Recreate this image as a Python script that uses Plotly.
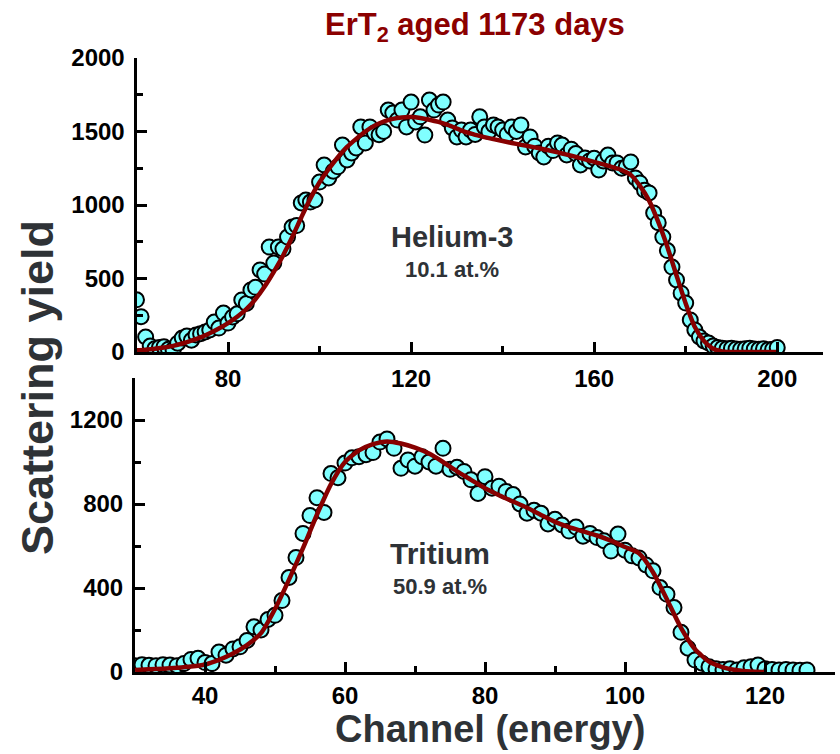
import plotly.graph_objects as go

# ---------------- data ----------------
he_channel = list(range(60, 201))
he_yield = [355, 240, 102, 40, 22, 30, 35, 18, 15, 60,
            95, 108, 80, 116, 125, 136, 150, 204, 163, 265,
            197, 238, 260, 354, 330, 422, 440, 558, 530, 714,
            605, 714, 700, 782, 850, 860, 1014, 1034, 1020, 1034,
            1156, 1272, 1184, 1230, 1260, 1408, 1306, 1354, 1388, 1531,
            1422, 1531, 1490, 1478, 1500, 1646, 1626, 1578, 1646, 1531,
            1700, 1565, 1600, 1476, 1714, 1646, 1680, 1700, 1578, 1524,
            1463, 1510, 1463, 1510, 1480, 1600, 1531, 1500, 1545, 1531,
            1510, 1480, 1531, 1500, 1545, 1395, 1463, 1400, 1354, 1327,
            1400, 1370, 1422, 1408, 1340, 1380, 1350, 1272, 1320, 1300,
            1318, 1238, 1300, 1340, 1286, 1286, 1250, 1260, 1293, 1184,
            1150, 1100, 1082, 946, 880, 782, 690, 578, 490, 400,
            333, 218, 150, 102, 75, 61, 40, 30, 25, 22,
            25, 20, 18, 22, 25, 20, 18, 22, 15, 18,
            30]

he_fit_channel = list(range(60, 201, 2))
he_fit = [12, 16, 22, 30, 42, 58, 78, 100, 128, 160,
          197, 240, 292, 360, 445, 545, 655, 780, 915, 1045,
          1155, 1245, 1325, 1395, 1450, 1500, 1540, 1568, 1586, 1596,
          1598, 1592, 1580, 1565, 1545, 1520, 1495, 1477, 1462, 1448,
          1435, 1422, 1410, 1398, 1386, 1372, 1358, 1343, 1327, 1310,
          1293, 1276, 1258, 1238, 1205, 1130, 1030, 885, 715, 520,
          330, 170, 75, 22, 4, 0, 0, 0, 0, 0,
          0]

t_channel = list(range(30, 127))
t_yield = [30, 35, 32, 30, 35, 33, 30, 40, 60, 65,
           45, 40, 95, 80, 110, 120, 150, 215, 200, 250,
           270, 340, 450, 545, 660, 745, 830, 760, 945, 925,
           995, 1020, 1025, 1035, 1045, 1095, 1110, 1065, 970, 1010,
           980, 1025, 1000, 980, 1065, 965, 975, 955, 915, 850,
           930, 875, 885, 860, 845, 800, 756, 770, 756, 705,
           727, 700, 671, 690, 647, 660, 640, 625, 576, 657,
           580, 553, 543, 510, 482, 402, 370, 307, 189, 113,
           57, 42, 25, 15, 12, 15, 10, 20, 25, 33,
           15, 12, 10, 12, 10, 8, 10]

t_fit_channel = list(range(30, 121, 2))
t_fit = [10, 13, 16, 20, 26, 36, 58, 88, 128, 185,
         300, 440, 590, 750, 895, 1000, 1055, 1085, 1098, 1088,
         1068, 1040, 1000, 955, 915, 875, 842, 812, 782, 748,
         715, 690, 670, 650, 625, 595, 565, 475, 345, 210,
         108, 50, 22, 8, 2, 0]

he_xticks = [80, 120, 160, 200]
he_yticks = [0, 500, 1000, 1500, 2000]
t_xticks = [40, 60, 80, 100, 120]
t_yticks = [0, 400, 800, 1200]

# ---------------- style ----------------
W, H = 840, 754
FONT = "Liberation Sans, Arial, sans-serif"
MARK_FILL = "#80FFFF"
FIT_COLOR = "#870000"
TXT_GRAY = "#2E3236"

marker = dict(size=15, color=MARK_FILL, line=dict(color="black", width=2))
fitline = dict(color=FIT_COLOR, width=4.5, shape="spline", smoothing=0.6)

fig = go.Figure()
fig.add_trace(go.Scatter(x=he_channel, y=he_yield, mode="markers", marker=marker,
                         xaxis="x2", yaxis="y2", showlegend=False))
fig.add_trace(go.Scatter(x=he_fit_channel, y=he_fit, mode="lines", line=fitline,
                         xaxis="x2", yaxis="y2", showlegend=False))
fig.add_trace(go.Scatter(x=t_channel, y=t_yield, mode="markers", marker=marker,
                         xaxis="x", yaxis="y", showlegend=False))
fig.add_trace(go.Scatter(x=t_fit_channel, y=t_fit, mode="lines", line=fitline,
                         xaxis="x", yaxis="y", showlegend=False))

tickfont = dict(family=FONT, size=24, color="black", weight="bold")


def minor(dt):
    return dict(dtick=dt, tick0=0, ticks="inside", ticklen=6, tickwidth=3, tickcolor="black")


def axis_common(**kw):
    d = dict(showline=True, linewidth=3, linecolor="black", ticks="inside",
             ticklen=10, tickwidth=3, tickcolor="black", showgrid=False,
             zeroline=False, tickfont=tickfont, mirror=False, fixedrange=True,
             automargin=False)
    d.update(kw)
    return d


fig.update_layout(
    width=W, height=H,
    margin=dict(l=0, r=0, t=0, b=0, pad=0, autoexpand=False),
    paper_bgcolor="white", plot_bgcolor="white",
    xaxis=axis_common(domain=[135 / W, 835 / W], anchor="y", range=[30, 130],
                      tickvals=t_xticks, ticklabelstandoff=0, minor=minor(10)),
    yaxis=axis_common(domain=[82 / H, 376 / H], anchor="x", range=[0, 1400],
                      tickvals=t_yticks, ticklabelstandoff=4, minor=minor(200)),
    xaxis2=axis_common(domain=[136.5 / W, 823 / W], anchor="y2", range=[60, 210],
                       tickvals=he_xticks, ticklabelstandoff=3, minor=minor(20)),
    yaxis2=axis_common(domain=[402 / H, 696 / H], anchor="x2", range=[0, 2000],
                       tickvals=he_yticks, ticklabelstandoff=4, minor=minor(250)),
)


def note(text, x, y, size, color=TXT_GRAY, angle=0):
    return dict(text=text, x=x / W, y=1 - y / H, textangle=angle,
                xref="paper", yref="paper", showarrow=False,
                xanchor="center", yanchor="middle",
                font=dict(family=FONT, size=size, color=color))


ann = [
    note("<b>ErT<sub>2</sub> aged 1173 days</b>", 475, 27, 31, color="#8B0000"),
    note("<b>Scattering yield</b>", 37, 388, 45, angle=-90),
    note("<b>Channel (energy)</b>", 490, 729, 38),
    note("<b>Helium-3</b>", 452, 237, 29),
    note("<b>10.1 at.%</b>", 452, 270, 22),
    note("<b>Tritium</b>", 440, 553, 30),
    note("<b>50.9 at.%</b>", 440, 586, 22),
]
fig.update_layout(annotations=ann)

fig.write_html("out.html")
